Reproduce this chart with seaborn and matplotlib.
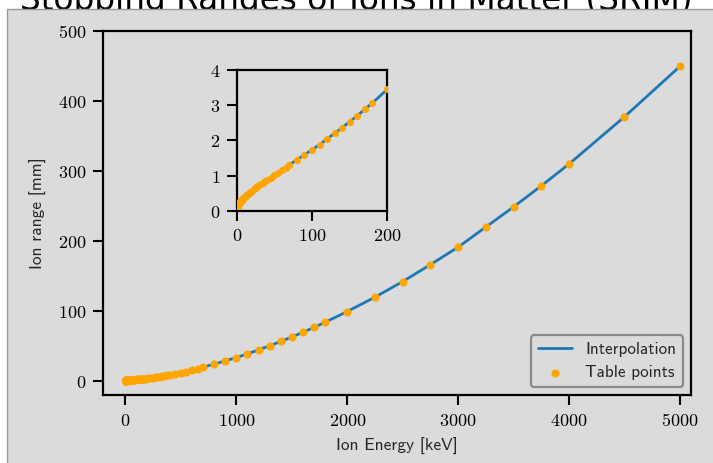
import matplotlib
matplotlib.use("Agg")
import matplotlib.pyplot as plt
from matplotlib.patches import Rectangle
from matplotlib.ticker import FuncFormatter, MultipleLocator
import pandas as pd
import seaborn as sns

# SRIM range table: ion energy [keV] and projected range [mm]
energy_kev = [
    1.0, 1.1, 1.2, 1.3, 1.4, 1.5, 1.6, 1.7, 1.8, 2.0, 2.25, 2.5, 2.75, 3.0,
    3.25, 3.5, 3.75, 4.0, 4.5, 5.0, 5.5, 6.0, 6.5, 7.0, 8.0, 9.0,
    10, 11, 12, 13, 14, 15, 16, 17, 18, 20, 22.5, 25, 27.5, 30, 32.5, 35,
    37.5, 40, 45, 50, 55, 60, 65, 70, 80, 90, 100, 110, 120, 130, 140, 150,
    160, 170, 180, 200, 225, 250, 275, 300, 325, 350, 375, 400, 450, 500,
    550, 600, 650, 700, 800, 900, 1000, 1100, 1200, 1300, 1400, 1500, 1600,
    1700, 1800, 2000, 2250, 2500, 2750, 3000, 3250, 3500, 3750, 4000, 4500,
    5000,
]
range_mm = [
    0.122, 0.128, 0.134, 0.139, 0.144, 0.149, 0.154, 0.159, 0.163, 0.172,
    0.182, 0.191, 0.200, 0.209, 0.217, 0.225, 0.233, 0.240, 0.254, 0.267,
    0.280, 0.293, 0.305, 0.317, 0.340, 0.360,
    0.380, 0.399, 0.418, 0.437, 0.456, 0.475, 0.494, 0.513, 0.532, 0.570,
    0.612, 0.653, 0.692, 0.730, 0.766, 0.801, 0.836, 0.870, 0.940, 1.010,
    1.083, 1.155, 1.228, 1.300, 1.450, 1.590, 1.730, 1.880, 2.040, 2.200,
    2.360, 2.530, 2.700, 2.880, 3.060, 3.450, 3.950, 4.470, 5.000, 5.600,
    6.200, 6.850, 7.500, 8.200, 9.700, 11.30, 13.00, 14.90, 16.90, 19.10,
    23.8, 28.2, 33.0, 38.3, 43.9, 49.8, 56.0, 62.4, 69.1, 76.1, 83.4, 98.8,
    119.3, 141.6, 165.8, 190.8, 219.5, 248.3, 278.3, 309.5, 377.0, 449.0,
]

title_text = "Stopping Ranges of Ions in Matter (SRIM)"
x_label = "Ion Energy [keV]"
y_label = "Ion range [mm]"
line_label = "Interpolation"
points_label = "Table points"

main_xticks = [0, 1000, 2000, 3000, 4000, 5000]
main_yticks = [0, 100, 200, 300, 400, 500]
inset_xticks = [0, 100, 200]
inset_yticks = [0, 1, 2, 3, 4]

table = pd.DataFrame({"energy": energy_kev, "range": range_mm})

BG = "#dbdbdb"
LINE_C = "#1f77b4"
DOT_C = "#ffa500"
SANS = ["cmss10", "DejaVu Sans"]

sns.set_theme(style="ticks")
plt.rcParams.update({
    "mathtext.fontset": "cm",
    "axes.facecolor": BG,
    "axes.edgecolor": "black",
    "axes.linewidth": 1.6,
    "xtick.color": "black",
    "ytick.color": "black",
    "xtick.major.size": 7,
    "ytick.major.size": 7,
    "xtick.major.width": 1.5,
    "ytick.major.width": 1.5,
    "xtick.major.pad": 5,
    "ytick.major.pad": 5,
    "xtick.labelsize": 13,
    "ytick.labelsize": 13,
})

fig = plt.figure(figsize=(7.13, 4.63), dpi=100, facecolor="white")

# heading sits partly behind the grey canvas panel
fig.text(0.5, 1 - 10 / 463, title_text, ha="center", va="baseline",
         fontsize=23.6, family="DejaVu Sans", color="black", zorder=-3)
fig.add_artist(Rectangle((7 / 713, -0.1), 1.2, 1.1 - 9 / 463,
                         transform=fig.transFigure, facecolor=BG,
                         edgecolor="#9a9a9a", linewidth=1.0, zorder=-2))

tick_fmt = FuncFormatter(lambda v, p: f"${v:g}$")

ax = fig.add_axes([103.3 / 713, 68 / 463, (691 - 103.3) / 713,
                   (395 - 30.7) / 463])
sns.lineplot(data=table, x="energy", y="range", ax=ax, color=LINE_C,
             linewidth=2.0, estimator=None, sort=True, label=line_label,
             zorder=2)
sns.scatterplot(data=table, x="energy", y="range", ax=ax, color=DOT_C,
                s=34, linewidth=0, label=points_label, zorder=3)
ax.set_xlim(-200, 5100)
ax.set_ylim(-20.5, 500)
ax.set_xticks(main_xticks)
ax.set_yticks(main_yticks)
ax.xaxis.set_major_formatter(tick_fmt)
ax.yaxis.set_major_formatter(tick_fmt)
ax.set_xlabel(x_label, family=SANS, fontsize=12.5, labelpad=6)
ax.set_ylabel(y_label, family=SANS, fontsize=12.5, labelpad=8)
for side in ["top", "right", "left", "bottom"]:
    ax.spines[side].set_visible(True)

leg = ax.legend(loc="lower right", prop={"family": SANS, "size": 12.3},
                frameon=True, fancybox=True, facecolor=BG,
                edgecolor="#8a8a8a", framealpha=1.0, borderaxespad=0.45)
leg.get_frame().set_linewidth(1.6)

# zoomed view of the low-energy part of the table
ins = fig.add_axes([236.7 / 713, (463 - 210.7) / 463, (387.3 - 236.7) / 713,
                    (210.7 - 70) / 463])
sns.lineplot(data=table, x="energy", y="range", ax=ins, color=LINE_C,
             linewidth=2.0, estimator=None, sort=True, zorder=2, legend=False)
sns.scatterplot(data=table, x="energy", y="range", ax=ins, color=DOT_C,
                s=26, linewidth=0, zorder=3, legend=False)
ins.set_xlim(0, 200)
ins.set_ylim(0, 4)
ins.set_xticks(inset_xticks)
ins.set_yticks(inset_yticks)
ins.xaxis.set_major_formatter(tick_fmt)
ins.yaxis.set_major_formatter(tick_fmt)
ins.set_xlabel("")
ins.set_ylabel("")
for side in ["top", "right", "left", "bottom"]:
    ins.spines[side].set_visible(True)

fig.savefig("out.png", dpi=100, facecolor="white")
